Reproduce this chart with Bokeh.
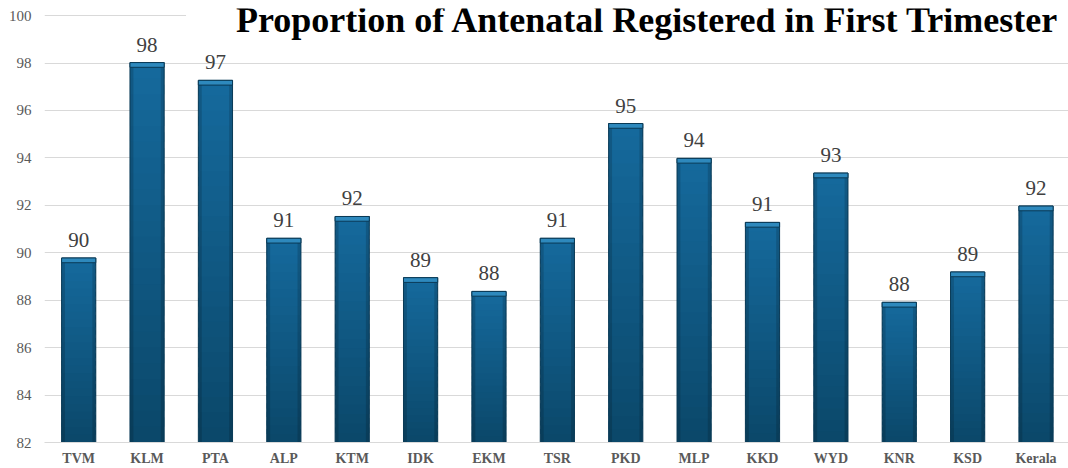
from bokeh.plotting import figure
from bokeh.models import Range1d, FixedTicker, ColumnDataSource, Label
from bokeh.core.properties import value
from bokeh.embed import file_html
from bokeh.resources import INLINE

districts = ["TVM", "KLM", "PTA", "ALP", "KTM", "IDK", "EKM", "TSR",
             "PKD", "MLP", "KKD", "WYD", "KNR", "KSD", "Kerala"]
proportion = [89.78, 98.02, 97.27, 90.61, 91.53, 88.95, 88.37, 90.61,
              95.45, 93.98, 91.28, 93.36, 87.91, 89.19, 91.97]
y_ticks = [82, 84, 86, 88, 90, 92, 94, 96, 98, 100]
title_text = "Proportion of Antenatal Registered in First Trimester"

SERIF = "Liberation Serif"
base = 82
xs = list(range(len(districts)))

p = figure(frame_width=1024, frame_height=434, output_backend="svg",
           toolbar_location=None,
           x_range=Range1d(-0.5, 14.475), y_range=Range1d(base, 100.3),
           min_border_left=44, min_border_right=0, min_border_top=8,
           min_border_bottom=18, background_fill_color="white",
           border_fill_color="white")
p.outline_line_color = None

# axes
p.xaxis.ticker = FixedTicker(ticks=xs)
p.xaxis.major_label_overrides = {i: d for i, d in enumerate(districts)}
p.xaxis.major_label_text_font = SERIF
p.xaxis.major_label_text_font_style = "bold"
p.xaxis.major_label_text_font_size = "14px"
p.xaxis.major_label_text_color = "#595959"
p.xaxis.major_label_standoff = 8
p.xaxis.axis_line_color = "#d9d9d9"
p.xaxis.major_tick_line_color = None
p.xaxis.minor_tick_line_color = None
p.xaxis.major_tick_out = 0
p.xaxis.major_tick_in = 0

p.yaxis.ticker = FixedTicker(ticks=y_ticks)
p.yaxis.major_label_text_font = SERIF
p.yaxis.major_label_text_font_size = "15px"
p.yaxis.major_label_text_color = "#595959"
p.yaxis.major_label_standoff = 13
p.yaxis.axis_line_color = None
p.yaxis.major_tick_line_color = None
p.yaxis.minor_tick_line_color = None
p.yaxis.major_tick_out = 0
p.yaxis.major_tick_in = 0

p.xgrid.grid_line_color = None
p.ygrid.grid_line_color = "#d9d9d9"
p.ygrid.grid_line_width = 1

# gradient bars: overlapping slices from bottom to top
def lerp(c1, c2, t):
    a = [int(c1[i:i + 2], 16) for i in (1, 3, 5)]
    b = [int(c2[i:i + 2], 16) for i in (1, 3, 5)]
    return "#%02x%02x%02x" % tuple(round(a[k] + (b[k] - a[k]) * t) for k in range(3))

N = 24
sx, sb, st, sc = [], [], [], []
for x, v in zip(xs, proportion):
    h = v - base
    for k in range(N):
        sx.append(x)
        sb.append(base + h * k / N)
        st.append(min(v, base + h * (k + 1.6) / N))
        sc.append(lerp("#0b486a", "#15699c", k / (N - 1)))
p.vbar(x="x", bottom="b", top="t", width=0.5, fill_color="c", line_color=None,
       source=ColumnDataSource(dict(x=sx, b=sb, t=st, c=sc)))

src = ColumnDataSource(dict(x=xs, top=proportion,
                            lab=["%.0f" % v for v in proportion],
                            bev=[v - 0.2 for v in proportion]))
# darker side shading
p.vbar(x=[x - 0.225 for x in xs], top=proportion, bottom=base, width=0.05,
       fill_color="#000000", fill_alpha=0.15, line_color=None)
p.vbar(x=[x + 0.225 for x in xs], top=proportion, bottom=base, width=0.05,
       fill_color="#000000", fill_alpha=0.15, line_color=None)
p.vbar(x="x", top="top", bottom=base, width=0.5, fill_color=None,
       line_color="#0a3a56", line_width=1, source=src)
# top bevel
p.vbar(x="x", top="top", bottom="bev", width=0.5, fill_color="#2e89bd",
       line_color="#0a3a56", line_width=1, source=src)

# value labels
p.text(x="x", y="top", text="lab", source=src, text_align="center",
       text_baseline="alphabetic", y_offset=-18, text_font=value(SERIF),
       text_font_size="21px", text_color="#404040")

# title box (white background covering the top gridline)
p.quad(left=[1.57], right=[14.475], bottom=[99.8], top=[100.64],
       fill_color="white", line_color=None)
p.add_layout(Label(x=2.3, y=100.64, text=title_text, text_font=SERIF,
                   text_font_style="bold", text_font_size="36px",
                   text_color="#000000", text_baseline="top",
                   text_align="left"))

open("out.html", "w").write(file_html(p, INLINE))
